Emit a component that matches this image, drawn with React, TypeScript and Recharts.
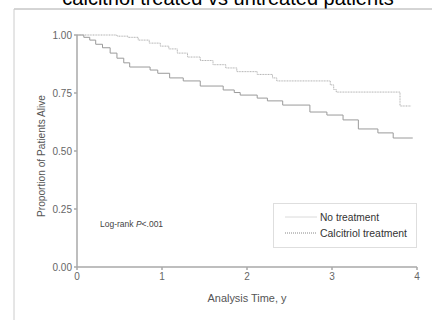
import React from "react";
import { LineChart, Line, XAxis, YAxis, Legend } from "recharts";

const calcitriolTime = [0, 0.47, 0.6, 0.72, 0.85, 0.98, 1.08, 1.18, 1.3, 1.45, 1.6, 1.75, 1.88, 2.12, 2.3, 2.35, 2.98, 3.02, 3.05, 3.8, 3.93];
const calcitriolSurv = [1, 0.995, 0.99, 0.978, 0.965, 0.952, 0.94, 0.922, 0.905, 0.89, 0.872, 0.858, 0.842, 0.83, 0.815, 0.802, 0.785, 0.765, 0.754, 0.694, 0.694];

const noTreatTime = [0, 0.08, 0.15, 0.22, 0.3, 0.39, 0.47, 0.55, 0.62, 0.86, 0.95, 1.09, 1.25, 1.45, 1.72, 1.85, 1.92, 2.12, 2.24, 2.42, 2.74, 2.94, 3.13, 3.31, 3.54, 3.72, 3.95];
const noTreatSurv = [1, 0.99, 0.978, 0.96, 0.945, 0.922, 0.9, 0.88, 0.862, 0.849, 0.835, 0.815, 0.802, 0.78, 0.763, 0.752, 0.741, 0.728, 0.716, 0.698, 0.668, 0.655, 0.634, 0.595, 0.578, 0.556, 0.556];

const xTicks = [0, 1, 2, 3, 4];
const yTicks = [0, 0.25, 0.5, 0.75, 1];

const seriesNames = ["No treatment", "Calcitriol treatment"];
const titleText = "calcitriol treated vs untreated patients";

const calcitriolData = calcitriolTime.map((t, i) => ({ t, s: calcitriolSurv[i] }));
const noTreatData = noTreatTime.map((t, i) => ({ t, s: noTreatSurv[i] }));

const FONT = "'Liberation Sans', Arial, sans-serif";

const LegendBox = () => (
  <div
    style={{
      width: 144,
      height: 45,
      border: "1px solid #dedede",
      background: "#fff",
      boxSizing: "border-box",
      position: "relative",
    }}
  >
    <svg width={144} height={45} style={{ position: "absolute", left: -1, top: -1 }}>
      <line x1={12} x2={44} y1={14} y2={14} stroke="#dadada" strokeWidth={1} />
      <line x1={12} x2={44} y1={30} y2={30} stroke="#888" strokeWidth={1} strokeDasharray="1 1" />
      <text x={47} y={17.5} fontSize={10} fill="#333" fontFamily={FONT} textLength={59} lengthAdjust="spacingAndGlyphs">
        {seriesNames[0]}
      </text>
      <text x={47} y={33.5} fontSize={10} fill="#333" fontFamily={FONT} textLength={87} lengthAdjust="spacingAndGlyphs">
        {seriesNames[1]}
      </text>
    </svg>
  </div>
);

export default function App() {
  return (
    <div style={{ position: "absolute", left: 0, top: 0, width: 432, height: 320, background: "#fff", overflow: "hidden" }}>
      <svg width={432} height={320} style={{ position: "absolute", left: 0, top: 0 }}>
        <text x={228} y={5} textAnchor="middle" fontSize={20} fontFamily={FONT} fill="#000">
          {titleText}
        </text>
        <line x1={14} x2={432} y1={9} y2={9} stroke="#aaa" strokeWidth={1} />
        <line x1={14} x2={14} y1={9} y2={320} stroke="#ccc" strokeWidth={1} />
        <text x={100} y={227} fontSize={8.5} fontFamily={FONT} fill="#444">
          Log-rank <tspan fontStyle="italic">P</tspan>&lt;.001
        </text>
        <text
          x={41}
          y={156}
          transform="rotate(-90 41 156)"
          textAnchor="middle"
          dominantBaseline="central"
          fontSize={11}
          fontFamily={FONT}
          fill="#555"
          textLength={122}
          lengthAdjust="spacingAndGlyphs"
        >
          Proportion of Patients Alive
        </text>
        <text
          x={247}
          y={302}
          textAnchor="middle"
          fontSize={11}
          fontFamily={FONT}
          fill="#555"
          textLength={79}
          lengthAdjust="spacingAndGlyphs"
        >
          Analysis Time, y
        </text>
      </svg>
      <div style={{ position: "absolute", left: 0, top: 0 }}>
        <LineChart width={432} height={320} margin={{ top: 35, right: 15, bottom: 23, left: 17 }}>
          <XAxis
            dataKey="t"
            type="number"
            domain={[0, 4]}
            ticks={xTicks}
            allowDuplicatedCategory={false}
            stroke="#a8a8a8"
            strokeWidth={1.5}
            tickSize={3}
            tickMargin={3}
            height={30}
            tick={{ fontSize: 10, fill: "#666", fontFamily: FONT }}
          />
          <YAxis
            type="number"
            domain={[0, 1]}
            ticks={yTicks}
            tickFormatter={(v: number) => v.toFixed(2)}
            stroke="#a8a8a8"
            strokeWidth={1.5}
            tickSize={3}
            tickMargin={2}
            width={60}
            tick={{ fontSize: 10, fill: "#666", fontFamily: FONT }}
          />
          <Line
            data={noTreatData}
            dataKey="s"
            name={seriesNames[0]}
            type="stepAfter"
            stroke="#9a9a9a"
            strokeWidth={1}
            dot={false}
            isAnimationActive={false}
          />
          <Line
            data={calcitriolData}
            dataKey="s"
            name={seriesNames[1]}
            type="stepAfter"
            stroke="#b0b0b0"
            strokeWidth={1}
            strokeDasharray="1 0.6"
            dot={false}
            isAnimationActive={false}
          />
          <Legend
            layout="vertical"
            align="center"
            verticalAlign="middle"
            content={() => <LegendBox />}
            wrapperStyle={{ left: 273, top: 203, width: 144, height: 45 }}
          />
        </LineChart>
      </div>
    </div>
  );
}
